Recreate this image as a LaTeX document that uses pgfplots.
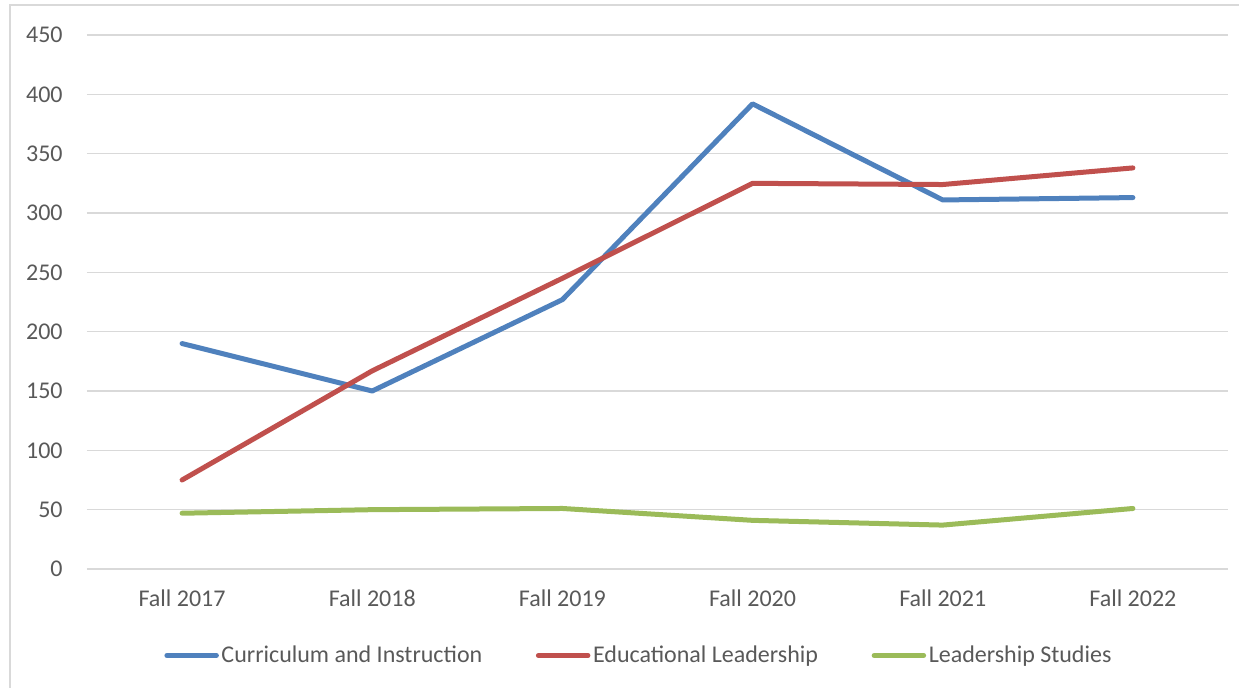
\documentclass[border=0pt]{standalone}
\usepackage{pgfplots}
\pgfplotsset{compat=1.18}
\usepackage{fontspec}
\setmainfont{Carlito}
\definecolor{cblue}{HTML}{4F81BD}
\definecolor{cred}{HTML}{C0504D}
\definecolor{cgreen}{HTML}{9BBB59}
\definecolor{gridc}{HTML}{D9D9D9}
\definecolor{textc}{HTML}{595959}
\begin{document}
\begin{tikzpicture}
\useasboundingbox (0,0) rectangle (619.5pt,343.5pt);
\draw[color=gridc, line width=0.8pt] (5pt,-2pt) -- (5pt,341pt) -- (622pt,341pt);
\begin{axis}[
  at={(43.5pt,59pt)}, anchor=south west,
  scale only axis, width=570.5pt, height=267pt,
  xmin=-0.5, xmax=5.5, ymin=0, ymax=450,
  ytick={0,50,...,450},
  xtick={0,1,2,3,4,5},
  xticklabels={Fall 2017,Fall 2018,Fall 2019,Fall 2020,Fall 2021,Fall 2022},
  axis line style={draw=none},
  major tick length=0pt,
  ymajorgrids,
  grid style={gridc, line width=0.8pt},
  tick label style={font=\fontsize{12}{14}\selectfont, text=textc},
  /pgf/number format/assume math mode=true,
  yticklabel style={anchor=east, inner sep=0pt, xshift=-12pt},
  xticklabel style={anchor=north, inner sep=0pt, yshift=-10pt},
  legend columns=3,
  legend style={at={(0.484,-0.162)}, anchor=center, draw=none, fill=none,
    font=\fontsize{12}{14}\selectfont, text=textc,
    /tikz/every even column/.append style={column sep=25.5pt},
    nodes={inner sep=1.3pt}},
  legend image code/.code={\draw[line width=2.5pt, line cap=round] (1.25pt,0pt) -- (26pt,0pt);},
  clip=false,
]
\addplot[cblue, line width=2.5pt, line cap=round, line join=round] coordinates {(0,190) (1,150) (2,227) (3,392) (4,311) (5,313)};
\addlegendentry{Curriculum and Instruction}
\addplot[cred, line width=2.5pt, line cap=round, line join=round] coordinates {(0,75) (1,167) (2,245) (3,325) (4,324) (5,338)};
\addlegendentry{Educational Leadership}
\addplot[cgreen, line width=2.5pt, line cap=round, line join=round] coordinates {(0,47) (1,50) (2,51) (3,41) (4,37) (5,51)};
\addlegendentry{Leadership Studies}
\end{axis}
\end{tikzpicture}
\end{document}
